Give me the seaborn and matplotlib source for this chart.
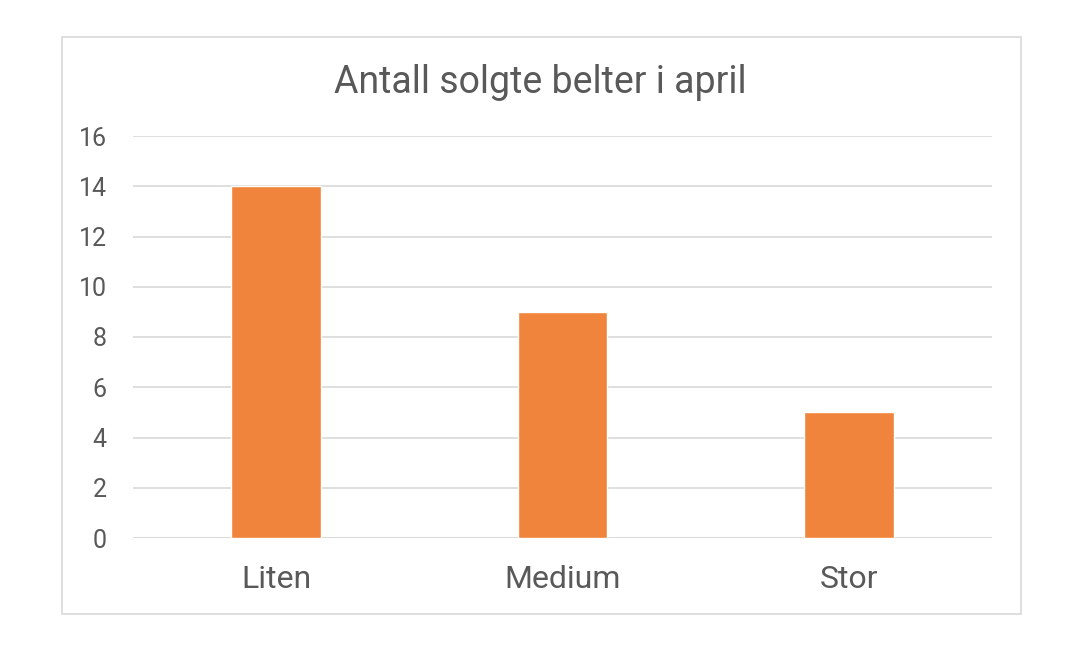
import matplotlib
matplotlib.use('Agg')
import matplotlib.pyplot as plt
import seaborn as sns
import pandas as pd
from matplotlib.patches import Rectangle

# data
categories = ['Liten', 'Medium', 'Stor']
values = [14, 9, 5]
title = 'Antall solgte belter i april'

sns.set_theme(style='white')
plt.rcParams['font.family'] = ['Roboto', 'DejaVu Sans']

text_color = '#595959'
grid_color = '#D9D9D9'
bar_color = '#F0843C'

df = pd.DataFrame({'size': categories, 'count': values})

fig = plt.figure(figsize=(10.70, 6.51), dpi=100)
fig.patch.set_facecolor('white')

# outer chart border
fig.add_artist(Rectangle((62 / 1070, 1 - 614 / 651), (1021 - 62) / 1070, (614 - 37) / 651,
                         transform=fig.transFigure, fill=False, edgecolor=grid_color, linewidth=1.2))

ax = fig.add_axes([133 / 1070, 1 - 538 / 651, (992 - 133) / 1070, (538 - 136) / 651])
sns.barplot(data=df, x='size', y='count', color=bar_color, width=0.312, saturation=1, ax=ax)

ax.set_ylim(0, 16)
ax.set_yticks(range(0, 17, 2))
ax.set_xlim(-0.5, 2.5)
ax.yaxis.grid(True, color=grid_color, linewidth=1.2)
ax.set_axisbelow(True)
for s in ax.spines.values():
    s.set_visible(False)
ax.axhline(0, color=grid_color, linewidth=1.2, zorder=0)

ax.set_xlabel('')
ax.set_ylabel('')
ax.tick_params(axis='y', labelsize=18, colors=text_color, length=0, pad=19)
ax.tick_params(axis='x', labelsize=23, colors=text_color, length=0, pad=19.5)

fig.text((333 + 748) / 2 / 1070, 1 - 93 / 651, title, ha='center', va='baseline',
         fontsize=27, color=text_color)

fig.savefig('out.png', dpi=100, facecolor='white')
